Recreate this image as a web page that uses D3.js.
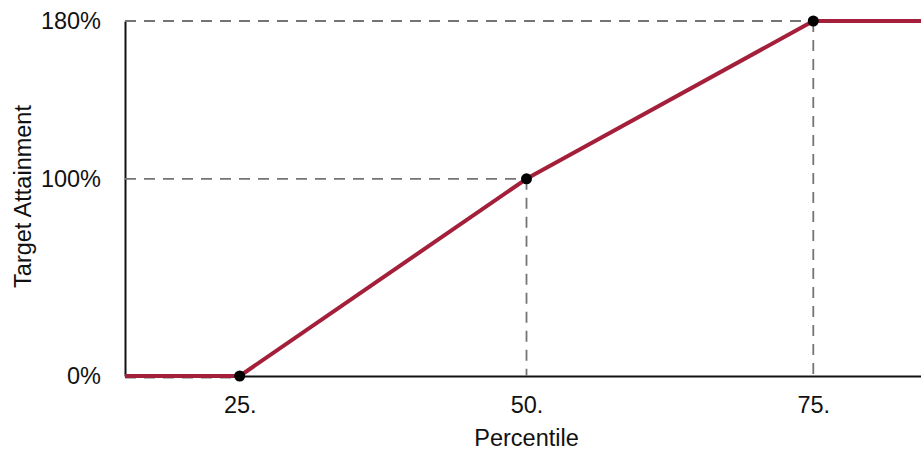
<!DOCTYPE html>
<html>
<head>
<meta charset="utf-8">
<script src="https://cdn.jsdelivr.net/npm/d3@7"></script>
<style>
  html, body { margin: 0; padding: 0; background: #fff; }
  svg { display: block; }
  text { font-family: "Liberation Sans", Arial, sans-serif; fill: #111; }
</style>
</head>
<body>
<svg id="chart" width="921" height="450"></svg>
<script>
// Payout curve: percentile rank -> target attainment (%)
const percentiles = [15, 25, 50, 75, 85];
const attainment  = [0, 0, 100, 180, 180];

// Breakpoints marked with dots and guide lines
const keyPercentiles = [25, 50, 75];
const keyAttainment  = [0, 100, 180];

// Axis ticks
const xTickValues = [25, 50, 75];
const xTickLabels = ["25.", "50.", "75."];
const yTickValues = [0, 100, 180];
const yTickLabels = ["0%", "100%", "180%"];

const svg = d3.select("#chart");
const W = 921, H = 450;
const margin = { left: 125, top: 21, bottom: 74 };
const fontSize = 23.5;

const x = d3.scaleLinear().domain([15, 85]).range([margin.left, 928]);
const y = d3.scaleLinear().domain([0, 180]).range([H - margin.bottom, margin.top]);

const lineColor = "#a31f3a";
const guideColor = "#747474";

const pts = percentiles.map((p, i) => ({ p, a: attainment[i] }));
const keys = keyPercentiles.map((p, i) => ({ p, a: keyAttainment[i] }));

// Axes
const yAxis = d3.axisLeft(y)
  .tickValues(yTickValues)
  .tickFormat((d, i) => yTickLabels[i])
  .tickSize(0).tickSizeOuter(0).tickPadding(24);
const gy = svg.append("g").attr("transform", `translate(${x(15)},0)`).call(yAxis);
gy.select(".domain").attr("stroke", "#111").attr("stroke-width", 2);
gy.selectAll("text").attr("font-size", fontSize).attr("fill", "#111");

const xAxis = d3.axisBottom(x)
  .tickValues(xTickValues)
  .tickFormat((d, i) => xTickLabels[i])
  .tickSize(0).tickSizeOuter(0).tickPadding(20);
const gx = svg.append("g").attr("transform", `translate(0,${y(0)})`).call(xAxis);
gx.select(".domain").attr("stroke", "#111").attr("stroke-width", 2);
gx.selectAll("text").attr("font-size", fontSize).attr("fill", "#111");

// Dashed guides from the axes to each breakpoint
const guides = svg.append("g")
  .attr("stroke", guideColor).attr("stroke-width", 1.8)
  .attr("stroke-dasharray", "11,8").attr("fill", "none");
keys.forEach(k => {
  guides.append("line")
    .attr("x1", x(15)).attr("x2", x(k.p))
    .attr("y1", y(k.a) + (k.a === 0 ? 1.5 : 0)).attr("y2", y(k.a) + (k.a === 0 ? 1.5 : 0));
  if (k.a > 0) {
    guides.append("line")
      .attr("x1", x(k.p)).attr("x2", x(k.p))
      .attr("y1", y(k.a)).attr("y2", y(0));
  }
});

// Payout curve
const line = d3.line().x(d => x(d.p)).y(d => y(d.a));
svg.append("path")
  .datum(pts)
  .attr("d", line)
  .attr("fill", "none")
  .attr("stroke", lineColor)
  .attr("stroke-width", 4)
  .attr("stroke-linejoin", "round");

// Breakpoint dots
svg.append("g").selectAll("circle")
  .data(keys)
  .join("circle")
  .attr("cx", d => x(d.p))
  .attr("cy", d => y(d.a))
  .attr("r", 5.5)
  .attr("fill", "#000");

// Axis titles
svg.append("text")
  .attr("x", x(50)).attr("y", 446)
  .attr("text-anchor", "middle")
  .attr("font-size", fontSize)
  .text("Percentile");

svg.append("text")
  .attr("transform", `translate(31,${(y(0) + y(180)) / 2 - 2}) rotate(-90)`)
  .attr("text-anchor", "middle")
  .attr("font-size", fontSize)
  .text("Target Attainment");
</script>
</body>
</html>
